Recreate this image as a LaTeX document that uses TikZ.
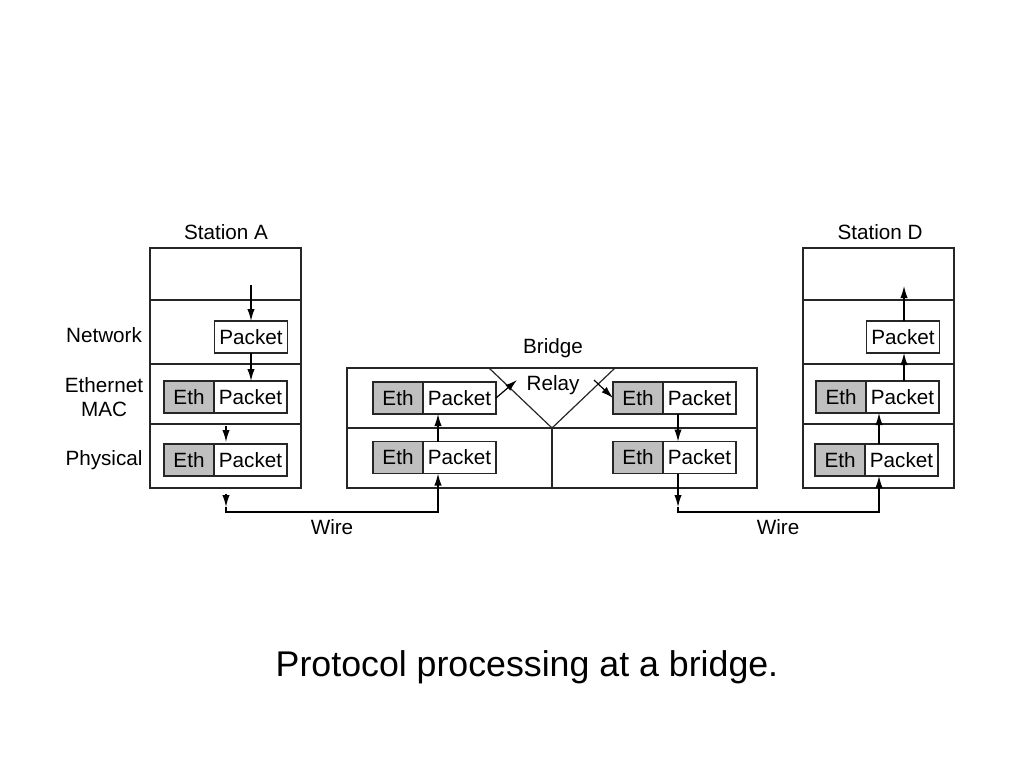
\documentclass[tikz,border=0pt]{standalone}
\usepackage{fontspec}
\setmainfont{Liberation Sans}
\usetikzlibrary{arrows.meta}
\begin{document}
\begin{tikzpicture}[x=0.75pt,y=-0.75pt,
  lbl/.style={font=\fontsize{15.5}{18.5}\selectfont,inner sep=0pt,align=center},
  frame/.style={draw=black!85,line width=0.9pt},
  eth/.style={draw=black!85,line width=0.9pt,fill=black!25,minimum width=37.5pt,minimum height=24pt,inner sep=0pt,outer sep=0pt,anchor=west,font=\fontsize{15.5}{18.5}\selectfont},
  pkt/.style={draw=black!85,line width=0.9pt,fill=white,minimum width=54.75pt,minimum height=24pt,inner sep=0pt,outer sep=0pt,font=\fontsize{15.5}{18.5}\selectfont},
  arr/.style={line width=0.9pt,-{Latex[length=9pt,width=5.5pt]}},
  ln/.style={line width=0.9pt}]
\useasboundingbox (0,0) rectangle (1024,768);
% Station A
\node[lbl] (tA) at (226,232) {Station A};
\draw[frame] (150,248) rectangle (301,488);
\draw[frame] (150,300) -- (301,300) (150,364) -- (301,364) (150,424) -- (301,424);
\node[lbl] (lnet) at (104,335) {Network};
\node[lbl] (lmac) at (104,397) {Ethernet\\MAC};
\node[lbl] (lphy) at (104,460) {Physical};
\node[pkt] (Anp) at (251,337) {Packet};
\node[eth] (Ame) at (164,397) {Eth};
\node[pkt,anchor=west] (Amp) at (Ame.east) {Packet};
\node[eth] (Ape) at (164,460) {Eth};
\node[pkt,anchor=west] (App) at (Ape.east) {Packet};
\coordinate (Atop) at (251,285);
\coordinate (Aph1) at (226,426);
\coordinate (Aph2) at (226,442);
\coordinate (Aw1) at (226,494);
\coordinate (Aw2) at (226,507);
\coordinate (Aw3) at (226,512);
\draw[arr] (Atop) -- (Anp.north);
\draw[arr] (Anp.south) -- (Amp.north -| Anp.south);
\draw[arr] (Aph1) -- (Aph2);
\draw[arr] (Aw1) -- (Aw2);
% Bridge
\node[lbl] (tB) at (553,348) {Bridge};
\draw[frame] (347,368) rectangle (757,488);
\draw[frame] (347,428) -- (757,428) (552,428) -- (552,488);
\coordinate (t1) at (489,368);
\coordinate (t2) at (552,428);
\coordinate (t3) at (615,368);
\draw[frame] (t1) -- (t2) -- (t3);
\node[lbl] (relay) at (553,385) {Relay};
\node[eth] (Lme) at (373,398) {Eth};
\node[pkt,anchor=west] (Lmp) at (Lme.east) {Packet};
\node[eth] (Lpe) at (373,457.5) {Eth};
\node[pkt,anchor=west] (Lpp) at (Lpe.east) {Packet};
\node[eth] (Rme) at (613,398) {Eth};
\node[pkt,anchor=west] (Rmp) at (Rme.east) {Packet};
\node[eth] (Rpe) at (613,457.5) {Eth};
\node[pkt,anchor=west] (Rpp) at (Rpe.east) {Packet};
\coordinate (xL) at (438,0);
\coordinate (xR) at (678,0);
\coordinate (rl) at (517,380);
\coordinate (rr) at (594,380);
\draw[arr] (Lmp.east) -- (rl);
\draw[arr] (rr) -- (Rme.west);
\draw[arr] (xL |- Lpp.north) -- (xL |- Lmp.south);
\draw[arr] (xR |- Rmp.south) -- (xR |- Rpp.north);
% Wire A -> Bridge
\draw[arr] (Aw2) -- (Aw3) -- (xL |- Aw3) -- (xL |- Lpp.south);
\node[lbl] (w1) at (332,527) {Wire};
% Station D
\node[lbl] (tD) at (880,232) {Station D};
\draw[frame] (803,248) rectangle (954,488);
\draw[frame] (803,300) -- (954,300) (803,364) -- (954,364) (803,424) -- (954,424);
\node[pkt] (Dnp) at (903,337) {Packet};
\node[eth] (Dme) at (816,397) {Eth};
\node[pkt,anchor=west] (Dmp) at (Dme.east) {Packet};
\node[eth] (Dpe) at (815,460) {Eth};
\node[pkt,anchor=west] (Dpp) at (Dpe.east) {Packet};
\coordinate (xD) at (879,0);
\coordinate (xN) at (904,0);
\coordinate (Dtop) at (904,286);
\coordinate (Rw1) at (678,507);
\coordinate (Rw2) at (678,512);
\draw[arr] (xR |- Rpp.south) -- (Rw1);
\draw[arr] (Rw1) -- (Rw2) -- (xD |- Rw2) -- (xD |- Dpp.south);
\draw[arr] (xD |- Dpp.north) -- (xD |- Dmp.south);
\draw[arr] (xN |- Dmp.north) -- (xN |- Dnp.south);
\draw[arr] (xN |- Dnp.north) -- (Dtop);
\node[lbl] (w2) at (778,527) {Wire};
% Caption
\node[inner sep=0pt,font=\fontsize{26.8}{32}\selectfont] (cap) at (527,667) {Protocol processing at a bridge.};
\end{tikzpicture}
\end{document}
